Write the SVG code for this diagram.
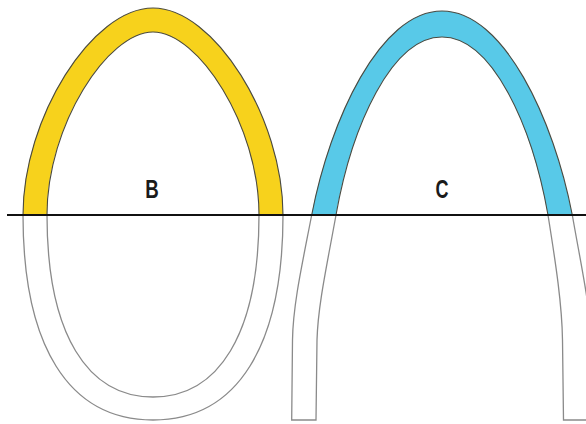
<svg xmlns="http://www.w3.org/2000/svg" width="586" height="424" viewBox="0 0 586 424">
<style>
.band{stroke:#4a4a40;stroke-width:1.1;stroke-linejoin:round}
.yellow{fill:#F7D21C}
.blue{fill:#58C9E8}
.lower{fill:none;stroke:#8a8a8a;stroke-width:1.3}
.lbl{font-family:"Liberation Sans",Arial,sans-serif;font-weight:bold;font-size:25px;fill:#1a1a1a}
</style>
<rect width="586" height="424" fill="#ffffff"/>
<g id="node-B">
<path class="band yellow" d="M23,215 C23,118 92,8 153,8 C214,8 283,118 283,215 L259,215 C259,125 198,32 153,32 C108,32 47,125 47,215 Z"/>
<path class="lower" d="M23,215 C23,345 68,420 153,420 C238,420 283,345 283,215"/>
<path class="lower" d="M47,215 C47,335 88,397 153,397 C218,397 259,335 259,215"/>
<text class="lbl" x="152" y="197.5" text-anchor="middle" textLength="13.5" lengthAdjust="spacingAndGlyphs">B</text>
</g>
<g id="node-C">
<path class="band blue" d="M311.7,215 C330,120 380,11 442,11 C504,11 554,120 572.3,215 L548,215 C532,125 492,37 442,37 C392,37 352,125 336,215 Z"/>
<path class="lower" d="M311.7,215 C302,265 293,305 292.5,340 L291.7,420 L316,420 L317,340 C318,305 327,265 336,215"/>
<path class="lower" d="M548,215 C556,265 562,305 562.5,340 L563.5,420 L592,420 L591,340 C590,305 581,265 572.3,215"/>
<text class="lbl" x="442" y="197.5" text-anchor="middle" textLength="13" lengthAdjust="spacingAndGlyphs">C</text>
</g>
<g id="connectors">
<line x1="7" y1="215" x2="586" y2="215" stroke="#111" stroke-width="2"/>
</g>
</svg>
